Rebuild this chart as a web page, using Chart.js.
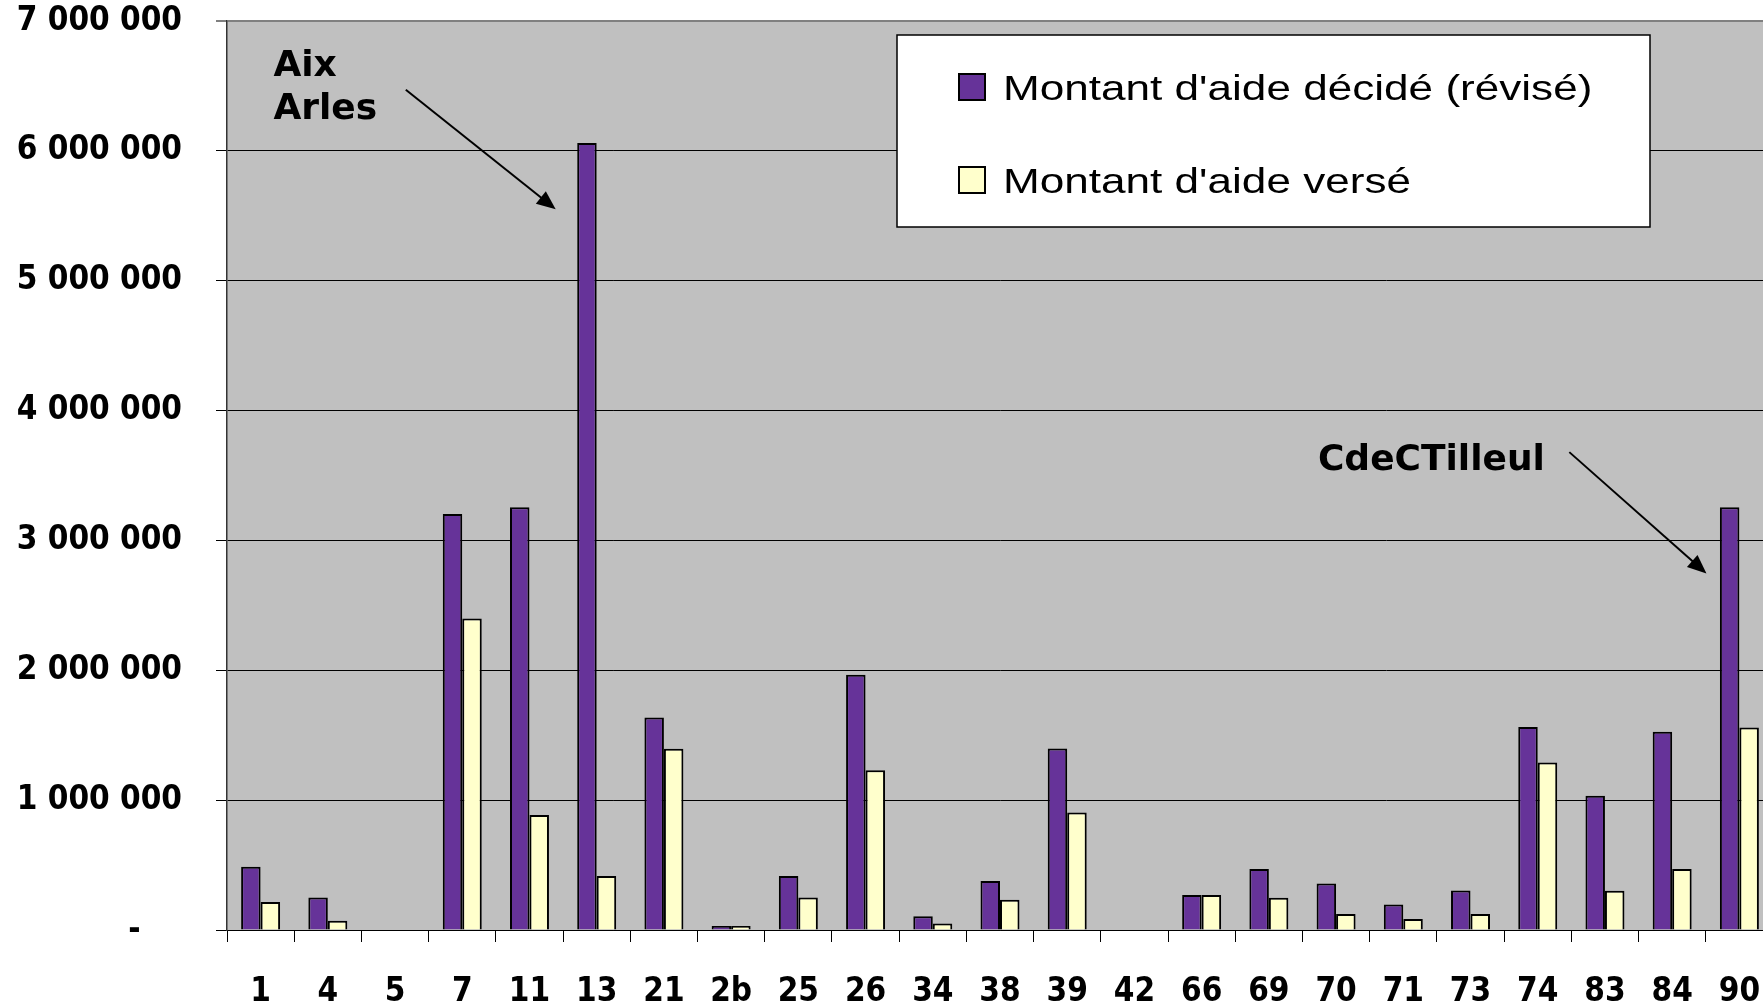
<!DOCTYPE html>
<html>
<head>
<meta charset="utf-8">
<script src="https://cdn.jsdelivr.net/npm/chart.js@4.4.1/dist/chart.umd.min.js"></script>
<style>
    html, body { margin: 0; padding: 0; background: #fff; overflow: hidden; }
    #wrap { width: 1763px; height: 1006px; overflow: hidden; }
    canvas { display: block; }
</style>
</head>
<body>
<div id="wrap"><canvas id="aidChart" width="1774" height="1006"></canvas></div>
<script>
// Departments along the x axis
const categories = ['1', '4', '5', '7', '11', '13', '21', '2b', '25', '26', '34', '38',
    '39', '42', '66', '69', '70', '71', '73', '74', '83', '84', '90'];

// Amounts in euros
const decided = [487000, 251000, 0, 3203000, 3255000, 6060000, 1636000, 31000, 415000,
    1966000, 105000, 377000, 1397000, 0, 269000, 469000, 359000, 197000, 305000,
    1564000, 1033000, 1526000, 3256000];
const paid = [215000, 72000, 0, 2399000, 885000, 415000, 1395000, 30000, 250000,
    1230000, 51000, 233000, 905000, 0, 269000, 249000, 123000, 85000, 123000,
    1290000, 303000, 469000, 1560000];

const seriesNames = ["Montant d'aide décidé (révisé)", "Montant d'aide versé"];
const yTicks = [0, 1000000, 2000000, 3000000, 4000000, 5000000, 6000000, 7000000];

// Callouts, in data units (x = category index)
const notes = [
    { lines: ['Aix', 'Arles'], x: 0.19, y: 6580000 },
    { lines: ['CdeCTilleul'], x: 15.73, y: 3540000 }
];
const arrows = [
    { from: [2.16, 6470000], to: [4.39, 5550000] },
    { from: [19.47, 3680000], to: [21.51, 2745000] }
];

const tickFont = { family: '"DejaVu Sans Condensed", "DejaVu Sans", sans-serif', weight: 'bold', size: 33 };

function spaced(v) {
    return String(v).replace(/\B(?=(\d{3})+(?!\d))/g, ' ');
}

const plotBackground = {
    id: 'plotBackground',
    beforeDraw(chart) {
        const { ctx, chartArea: a } = chart;
        ctx.save();
        ctx.fillStyle = '#c0c0c0';
        ctx.fillRect(a.left, a.top, a.right - a.left, a.bottom - a.top);
        ctx.restore();
    }
};

const boxLegend = {
    id: 'boxLegend',
    afterDatasetsDraw(chart) {
        const { ctx, chartArea: a } = chart;
        const x = a.left + 670, y = a.top + 14, w = 753, h = 192;
        ctx.save();
        ctx.fillStyle = '#fff';
        ctx.fillRect(x, y, w, h);
        ctx.strokeStyle = '#000';
        ctx.lineWidth = 1.5;
        ctx.strokeRect(x, y, w, h);
        chart.data.datasets.forEach((ds, i) => {
            const cy = y + 52 + i * 93;
            ctx.fillStyle = ds.backgroundColor;
            ctx.fillRect(x + 62, cy - 13, 26, 26);
            ctx.lineWidth = 2;
            ctx.strokeRect(x + 62, cy - 13, 26, 26);
            ctx.save();
            ctx.translate(x + 106, cy + 13);
            ctx.scale(1.26, 1);
            ctx.fillStyle = '#000';
            ctx.font = '35px "Liberation Sans", Arial, sans-serif';
            ctx.textBaseline = 'alphabetic';
            ctx.fillText(ds.label, 0, 0);
            ctx.restore();
        });
        ctx.restore();
    }
};

const callouts = {
    id: 'callouts',
    afterDatasetsDraw(chart) {
        const { ctx, scales: { x, y } } = chart;
        ctx.save();
        ctx.fillStyle = '#000';
        ctx.strokeStyle = '#000';
        ctx.font = 'bold 36px "DejaVu Sans", Verdana, sans-serif';
        ctx.textBaseline = 'alphabetic';
        notes.forEach(n => {
            n.lines.forEach((t, i) => {
                ctx.fillText(t, x.getPixelForValue(n.x), y.getPixelForValue(n.y) + i * 43);
            });
        });
        arrows.forEach(ar => {
            const x0 = x.getPixelForValue(ar.from[0]), y0 = y.getPixelForValue(ar.from[1]);
            const x1 = x.getPixelForValue(ar.to[0]), y1 = y.getPixelForValue(ar.to[1]);
            const ang = Math.atan2(y1 - y0, x1 - x0);
            ctx.lineWidth = 2;
            ctx.beginPath();
            ctx.moveTo(x0, y0);
            ctx.lineTo(x1 - 14 * Math.cos(ang), y1 - 14 * Math.sin(ang));
            ctx.stroke();
            ctx.beginPath();
            ctx.moveTo(x1, y1);
            ctx.lineTo(x1 - 19 * Math.cos(ang) + 8 * Math.sin(ang), y1 - 19 * Math.sin(ang) - 8 * Math.cos(ang));
            ctx.lineTo(x1 - 19 * Math.cos(ang) - 8 * Math.sin(ang), y1 - 19 * Math.sin(ang) + 8 * Math.cos(ang));
            ctx.closePath();
            ctx.fill();
        });
        ctx.restore();
    }
};

new Chart(document.getElementById('aidChart'), {
    type: 'bar',
    data: {
        labels: categories,
        datasets: [{
            label: seriesNames[0],
            data: decided,
            backgroundColor: '#663399',
            borderColor: '#000',
            borderWidth: 2
        }, {
            label: seriesNames[1],
            data: paid,
            backgroundColor: '#ffffcc',
            borderColor: '#000',
            borderWidth: 2
        }]
    },
    options: {
        responsive: false,
        animation: false,
        layout: { padding: { top: 21, right: 1, left: 0, bottom: 0 } },
        datasets: { bar: { categoryPercentage: 0.58, barPercentage: 1.0 } },
        plugins: {
            legend: { display: false },
            tooltip: { enabled: false }
        },
        scales: {
            x: {
                grid: { offset: true, drawOnChartArea: false, drawTicks: true, tickLength: 12, color: '#000', lineWidth: 1 },
                border: { color: '#000', width: 1 },
                ticks: { autoSkip: false, maxRotation: 0, color: '#000', padding: 31, font: tickFont },
                afterFit(scale) {
                    scale.height = 76;
                    scale.paddingLeft = 0;
                    scale.paddingRight = 0;
                }
            },
            y: {
                min: 0,
                max: 7000000,
                afterBuildTicks(scale) { scale.ticks = yTicks.map(v => ({ value: v })); },
                ticks: {
                    color: '#000',
                    padding: 34,
                    font: tickFont,
                    callback: v => v === 0 ? '-    ' : spaced(v)
                },
                grid: {
                    color: c => (c.tick && c.tick.value === 7000000) ? '#808080' : '#000',
                    lineWidth: c => (c.tick && c.tick.value === 7000000) ? 2 : 1,
                    tickLength: 11
                },
                border: { color: '#333', width: 1.5 },
                afterFit(scale) {
                    scale.width = 227;
                    scale.paddingTop = 0;
                    scale.paddingBottom = 0;
                }
            }
        }
    },
    plugins: [plotBackground, boxLegend, callouts]
});
</script>
</body>
</html>
